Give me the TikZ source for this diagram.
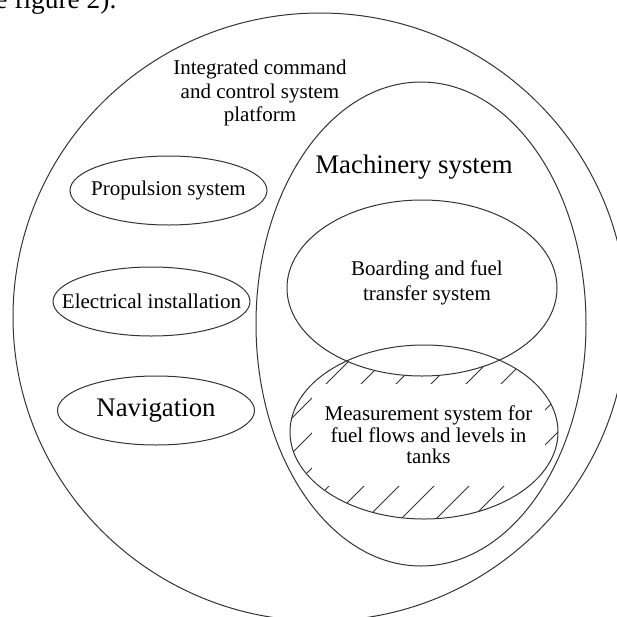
\documentclass[tikz,border=0pt]{standalone}
\usepackage{fontspec}
\setmainfont{Liberation Serif}
\usetikzlibrary{shapes.geometric}

\begin{document}
\begin{tikzpicture}[
    % one unit is one pixel of the figure, y grows downwards
    x=0.5pt, y=-0.5pt,
    outline/.style={
        draw=black!80,
        line width=0.5pt
    },
    system/.style={
        ellipse,
        outline,
        inner sep=0pt
    },
    subsystem text/.style={
        inner sep=0pt,
        font=\fontsize{10.5}{12.5}\selectfont
    },
    % the text sits in a label so that it does not widen the ellipse
    subsystem/.style={
        system,
        minimum width=98.5pt,
        minimum height=34.5pt,
        label={[subsystem text]center:#1}
    },
    caption text/.style={
        align=center,
        inner sep=0pt,
        font=\fontsize{10.5}{12.5}\selectfont
    },
    hatch/.style={
        draw=black!80,
        line width=0.45pt
    }
]
    \useasboundingbox (0,0) rectangle (617,617);
    \clip (0,0) rectangle (617,617);

    % --- 1. Hatching of the measurement area ---
    \coordinate (meascenter) at (424,432);
    \coordinate (boardcenter) at (422,288);
    \begin{scope}
        \clip (meascenter) ellipse [x radius=134, y radius=87];
        \foreach \k in {0,...,8}
            \draw[hatch] (10+35*\k, 700) -- ++(400,-400);
    \end{scope}
    % the boarding ellipse hides the hatching where they overlap
    \fill[white] (boardcenter) ellipse [x radius=135, y radius=88];
    % white box behind the measurement text
    \node[caption text, fill=white, minimum width=116.5pt, minimum height=51pt,
        font=\fontsize{10.5}{10.75}\selectfont] (measurementlabel) at (428.5,435)
        {Measurement system for\\fuel flows and levels in\\tanks};

    % --- 2. Place the system ellipses ---
    \node[system, minimum width=307pt, minimum height=304pt] (platform) at (320,317) {};
    \node[system, minimum width=165pt, minimum height=242pt] (machinery) at (421,324) {};
    \node[system, minimum width=135pt, minimum height=88pt] (boarding) at (boardcenter) {};
    \node[system, minimum width=134pt, minimum height=87pt] (measurement) at (meascenter) {};

    \node[subsystem=Propulsion system] (propulsion) at (168.5,190.5) {};
    \node[subsystem=Electrical installation] (electrical) at (151.5,301.5) {};
    \node[subsystem={\fontsize{13.4}{16}\selectfont Navigation}] (navigation) at (156,410.5) {};

    % --- 3. Labels ---
    \node[caption text, font=\fontsize{10.5}{11.75}\selectfont] (platformlabel) at (260,93)
        {Integrated command\\and control system\\platform};
    \node[caption text, font=\fontsize{13.4}{16}\selectfont] (machinerylabel) at (414,167) {Machinery system};
    \node[caption text] (boardinglabel) at (427,283) {Boarding and fuel\\transfer system};

    % cut-off line of the surrounding text
    \node[anchor=base west, inner sep=0pt, font=\fontsize{13.7}{16}\selectfont] (pagetext) at (-5,8) {e figure 2).};
\end{tikzpicture}
\end{document}
